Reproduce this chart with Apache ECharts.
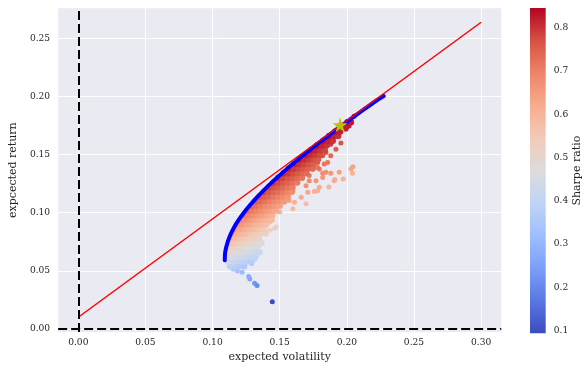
<!DOCTYPE html>
<html><head><meta charset="utf-8">
<script src="https://cdn.jsdelivr.net/npm/echarts@6/dist/echarts.min.js"></script>
<style>html,body{margin:0;padding:0;background:#fff}#c{width:586px;height:368px}</style>
</head><body><div id="c"></div>
<script>
// ---------- data ----------
const xTicks = [0, 0.05, 0.10, 0.15, 0.20, 0.25, 0.30];
const yTicks = [0, 0.05, 0.10, 0.15, 0.20, 0.25];
const colorbarTicks = [0.1, 0.2, 0.3, 0.4, 0.5, 0.6, 0.7, 0.8];
const riskFreeRate = 0.01;
const xMin = -0.015, xMax = 0.315, yMin = -0.0028, yMax = 0.2761;
const sharpeMin = 0.094, sharpeMax = 0.8455;

// efficient frontier (blue)
const frontierRet = [0.059, 0.065, 0.070, 0.076, 0.082, 0.088, 0.094, 0.100, 0.106, 0.112, 0.118, 0.124, 0.130, 0.136, 0.142, 0.148, 0.154, 0.160, 0.166, 0.172, 0.178, 0.184, 0.190, 0.196, 0.2005];
const frontierVol = [0.1091, 0.1093, 0.1101, 0.1116, 0.1137, 0.1163, 0.1196, 0.1233, 0.1275, 0.1320, 0.1370, 0.1422, 0.1478, 0.1536, 0.1597, 0.1659, 0.1724, 0.1790, 0.1858, 0.1926, 0.1997, 0.2068, 0.2140, 0.2213, 0.2275];

// capital market line (red)
const cmlVol = [0, 0.30];
const cmlRet = [0.01, 0.264];

// maximum Sharpe portfolio (star)
const starVol = [0.195];
const starRet = [0.1755];

// dense cloud of random portfolios, grouped by expected return
const cloudRet = [0.054, 0.058, 0.062, 0.066, 0.070, 0.074, 0.078, 0.082, 0.086, 0.090, 0.094, 0.098, 0.102, 0.106, 0.110, 0.114, 0.118, 0.122, 0.126, 0.130, 0.134, 0.138, 0.142, 0.146, 0.150, 0.154, 0.158, 0.162, 0.166, 0.170, 0.174, 0.178];
const cloudVol = [
  [0.1130, 0.1165, 0.1200, 0.1235],
  [0.1115, 0.1150, 0.1185, 0.1220, 0.1255, 0.1290],
  [0.1110, 0.1145, 0.1180, 0.1215, 0.1250, 0.1285, 0.1320],
  [0.1105, 0.1140, 0.1175, 0.1210, 0.1245, 0.1280, 0.1315, 0.1350],
  [0.1120, 0.1155, 0.1190, 0.1225, 0.1260, 0.1295, 0.1330],
  [0.1125, 0.1160, 0.1195, 0.1230, 0.1265, 0.1300, 0.1335, 0.1365],
  [0.1135, 0.1170, 0.1205, 0.1240, 0.1275, 0.1310, 0.1345],
  [0.1150, 0.1185, 0.1220, 0.1255, 0.1290, 0.1325, 0.1360, 0.1395],
  [0.1170, 0.1205, 0.1240, 0.1275, 0.1310, 0.1345, 0.1380],
  [0.1190, 0.1225, 0.1260, 0.1295, 0.1330, 0.1365, 0.1400],
  [0.1210, 0.1245, 0.1280, 0.1315, 0.1350, 0.1385, 0.1420, 0.1440],
  [0.1235, 0.1270, 0.1305, 0.1340, 0.1375, 0.1410, 0.1445],
  [0.1260, 0.1295, 0.1330, 0.1365, 0.1400, 0.1435, 0.1470],
  [0.1290, 0.1325, 0.1360, 0.1395, 0.1430, 0.1465, 0.1500],
  [0.1320, 0.1355, 0.1390, 0.1425, 0.1460, 0.1495, 0.1530],
  [0.1350, 0.1385, 0.1420, 0.1455, 0.1490, 0.1525, 0.1560],
  [0.1385, 0.1420, 0.1455, 0.1490, 0.1525, 0.1560, 0.1590],
  [0.1420, 0.1455, 0.1490, 0.1525, 0.1560, 0.1595],
  [0.1455, 0.1490, 0.1525, 0.1560, 0.1595, 0.1630],
  [0.1490, 0.1525, 0.1560, 0.1595, 0.1630, 0.1665],
  [0.1530, 0.1565, 0.1600, 0.1635, 0.1670, 0.1700],
  [0.1570, 0.1605, 0.1640, 0.1675, 0.1710, 0.1745],
  [0.1610, 0.1645, 0.1680, 0.1715, 0.1750],
  [0.1650, 0.1685, 0.1720, 0.1755, 0.1785],
  [0.1695, 0.1730, 0.1765, 0.1800],
  [0.1735, 0.1770, 0.1805, 0.1835],
  [0.1780, 0.1815, 0.1850],
  [0.1825, 0.1860, 0.1895],
  [0.1870, 0.1905, 0.1935],
  [0.1915, 0.1950],
  [0.1960, 0.1995],
  [0.2005, 0.2030]
];

// scattered portfolios outside the dense cloud
const sparseVol = [0.1445, 0.1331, 0.1313, 0.1277, 0.1269, 0.1220, 0.1185, 0.1153, 0.1290, 0.1313, 0.1350, 0.1310, 0.1388, 0.1425, 0.1460, 0.1474, 0.1425,
  0.1500, 0.1598, 0.1536, 0.1610, 0.1570, 0.1696, 0.1660, 0.1598, 0.1709, 0.1758, 0.1783, 0.1585, 0.1696, 0.1795, 0.1866,
  0.1720, 0.1770, 0.1906, 0.1820, 0.1911, 0.1973, 0.1720, 0.1820, 0.1880, 0.1943, 0.1844, 0.2042, 0.2030, 0.2045,
  0.1746, 0.1795, 0.1733, 0.1783, 0.1832, 0.1783, 0.1857, 0.1820, 0.1880, 0.1844, 0.1832, 0.1919, 0.1880,
  0.1894, 0.1956, 0.1869, 0.1956, 0.1993, 0.2017, 0.2030, 0.2054, 0.2005];
const sparseRet = [0.0233, 0.0373, 0.0393, 0.0430, 0.0450, 0.0487, 0.0498, 0.0513, 0.0560, 0.0600, 0.0720, 0.0698, 0.0835, 0.0849, 0.0863, 0.0878, 0.0920,
  0.1006, 0.1034, 0.1090, 0.1090, 0.1105, 0.1077, 0.1134, 0.1190, 0.1177, 0.1182, 0.1190, 0.1260, 0.1233, 0.1220, 0.1222,
  0.1276, 0.1276, 0.1276, 0.1303, 0.1285, 0.1290, 0.1320, 0.1340, 0.1340, 0.1348, 0.1348, 0.1340, 0.1376, 0.1395,
  0.1376, 0.1376, 0.1400, 0.1390, 0.1419, 0.1433, 0.1433, 0.1490, 0.1490, 0.1519, 0.1533, 0.1547, 0.1590,
  0.1618, 0.1601, 0.1647, 0.1718, 0.1718, 0.1746, 0.1790, 0.1830, 0.1760];

// ---------- build ----------
const coolwarm = ['#3b4cc0','#5977e3','#7b9ff9','#9ebeff','#c0d4f5','#dddcdc','#f2cbb7','#f7ac8e','#ee8468','#d65244','#b40426'];
const sharpe = (v, r) => (r - riskFreeRate) / v;
const sparsePoints = sparseVol.map((v, i) => [v, sparseRet[i], sharpe(v, sparseRet[i])]);
const densePoints = [];
cloudRet.forEach((r, i) => cloudVol[i].forEach(v => densePoints.push([v, r, sharpe(v, r)])));

const font = 'DejaVu Serif';
const txt = '#262626';
const starPath = 'path://M0,-10 L2.245,-3.09 L9.51,-3.09 L3.633,1.18 L5.878,8.09 L0,3.82 L-5.878,8.09 L-3.633,1.18 L-9.51,-3.09 L-2.245,-3.09 Z';
const labelBase = {fontFamily: font, fontSize: 9.1, color: txt};
const padded = (ticks, lo, hi) => [lo].concat(ticks, [hi]);
const fmt = (ticks, d) => v => ticks.some(t => Math.abs(t - v) < 1e-9) ? v.toFixed(d) : '';

const chart = echarts.init(document.getElementById('c'), null, {renderer: 'canvas'});
chart.setOption({
  animation: false,
  backgroundColor: '#ffffff',
  grid: [
    {left: 55.75, top: 8.2, width: 445.5, height: 326.1, show: true, backgroundColor: '#eaeaf2', borderWidth: 0},
    {left: 530, top: 8, width: 15.7, height: 325.3, show: false}
  ],
  xAxis: [
    {type: 'value', gridIndex: 0, min: xMin, max: xMax,
     name: 'expected volatility', nameLocation: 'middle', nameGap: 18,
     nameTextStyle: {fontFamily: font, fontSize: 11, color: txt},
     axisLine: {show: false}, axisTick: {show: false, customValues: xTicks},
     axisLabel: Object.assign({customValues: padded(xTicks, xMin, xMax), formatter: fmt(xTicks, 2), margin: 6}, labelBase),
     splitLine: {show: true, lineStyle: {color: '#ffffff', width: 1}}},
    {type: 'value', gridIndex: 1, min: 0, max: 1, show: false}
  ],
  yAxis: [
    {type: 'value', gridIndex: 0, min: yMin, max: yMax,
     name: 'expcected return', nameLocation: 'middle', nameRotate: 90, nameGap: 33,
     nameTextStyle: {fontFamily: font, fontSize: 11, color: txt},
     axisLine: {show: false}, axisTick: {show: false, customValues: yTicks},
     axisLabel: Object.assign({customValues: padded(yTicks, yMin, yMax), formatter: fmt(yTicks, 2), margin: 8}, labelBase),
     splitLine: {show: true, lineStyle: {color: '#ffffff', width: 1}}},
    {type: 'value', gridIndex: 1, min: sharpeMin, max: sharpeMax, position: 'right',
     name: 'Sharpe ratio', nameLocation: 'middle', nameRotate: 90, nameGap: 26,
     nameTextStyle: {fontFamily: font, fontSize: 11, color: txt},
     axisLine: {show: false}, axisTick: {show: false, customValues: colorbarTicks},
     axisLabel: Object.assign({customValues: padded(colorbarTicks, sharpeMin, sharpeMax), formatter: fmt(colorbarTicks, 1), margin: 8}, labelBase),
     splitLine: {show: false}}
  ],
  visualMap: {
    type: 'continuous', show: false, dimension: 2, seriesIndex: [0, 1],
    min: sharpeMin, max: sharpeMax, inRange: {color: coolwarm}
  },
  graphic: [{
    type: 'rect', silent: true, z: 0,
    shape: {x: 530, y: 8, width: 15.7, height: 325.3},
    style: {fill: {type: 'linear', x: 0, y: 0, x2: 0, y2: 1,
      colorStops: coolwarm.slice().reverse().map((c, i) => ({offset: i / (coolwarm.length - 1), color: c}))}}
  }],
  series: [
    {type: 'scatter', xAxisIndex: 0, yAxisIndex: 0, data: sparsePoints, symbolSize: 5, z: 2,
     itemStyle: {opacity: 1}, silent: true},
    {type: 'scatter', xAxisIndex: 0, yAxisIndex: 0, data: densePoints, symbolSize: 6.5, z: 2,
     itemStyle: {opacity: 1}, silent: true},
    {type: 'line', xAxisIndex: 0, yAxisIndex: 0, data: frontierVol.map((v, i) => [v, frontierRet[i]]),
     showSymbol: false, smooth: 0.2, z: 3, silent: true,
     lineStyle: {color: '#0000ff', width: 4, cap: 'round', join: 'round'}},
    {type: 'line', xAxisIndex: 0, yAxisIndex: 0, data: cmlVol.map((v, i) => [v, cmlRet[i]]),
     showSymbol: false, z: 4, silent: true,
     lineStyle: {color: '#ff0000', width: 1.5},
     markLine: {silent: true, symbol: ['none', 'none'], label: {show: false},
       lineStyle: {type: [9, 4], color: '#000000', width: 2},
       data: [{xAxis: 0}, {yAxis: 0}]}},
    {type: 'scatter', xAxisIndex: 0, yAxisIndex: 0, data: starVol.map((v, i) => [v, starRet[i]]),
     symbol: starPath, symbolSize: 15, z: 5, silent: true,
     itemStyle: {color: '#bfbf00', opacity: 1}}
  ]
});
</script>
</body></html>
